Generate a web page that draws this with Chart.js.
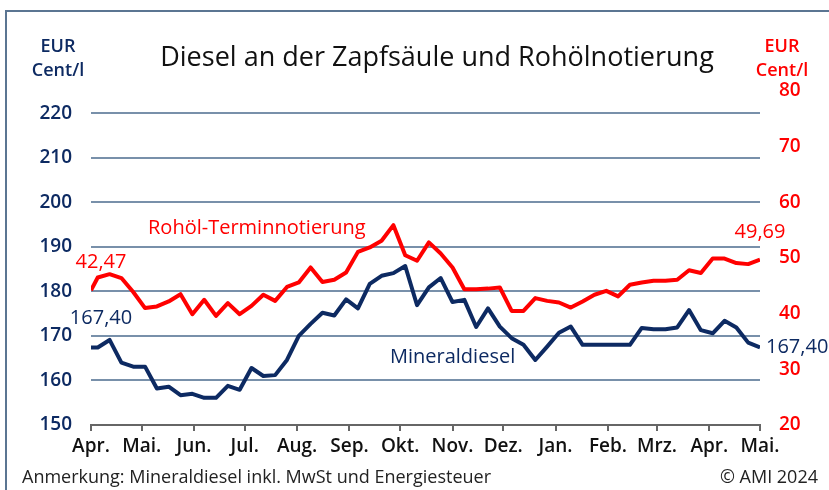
<!DOCTYPE html>
<html>
<head>
<meta charset="utf-8">
<script src="https://cdn.jsdelivr.net/npm/chart.js@4.4.1/dist/chart.umd.min.js"></script>
<style>
  html, body { margin: 0; padding: 0; background: #fff; }
  #wrap { position: relative; width: 829px; height: 490px; }
</style>
</head>
<body>
<div id="wrap"><canvas id="chart" width="829" height="490"></canvas></div>
<script>
// weekly quotes (Wednesdays), first point = start of period
const dates = [
  '2023-04-01',
  '2023-04-05', '2023-04-12', '2023-04-19', '2023-04-26',
  '2023-05-03', '2023-05-10', '2023-05-17', '2023-05-24', '2023-05-31',
  '2023-06-07', '2023-06-14', '2023-06-21', '2023-06-28',
  '2023-07-05', '2023-07-12', '2023-07-19', '2023-07-26',
  '2023-08-02', '2023-08-09', '2023-08-16', '2023-08-23', '2023-08-30',
  '2023-09-06', '2023-09-13', '2023-09-20', '2023-09-27',
  '2023-10-04', '2023-10-11', '2023-10-18', '2023-10-25',
  '2023-11-01', '2023-11-08', '2023-11-15', '2023-11-22', '2023-11-29',
  '2023-12-06', '2023-12-13', '2023-12-20', '2023-12-27',
  '2024-01-03', '2024-01-10', '2024-01-17', '2024-01-24', '2024-01-31',
  '2024-02-07', '2024-02-14', '2024-02-21', '2024-02-28',
  '2024-03-06', '2024-03-13', '2024-03-20', '2024-03-27',
  '2024-04-03', '2024-04-10', '2024-04-17', '2024-04-24',
  '2024-05-01'
];

// Mineraldiesel, EUR Cent/l (left axis)
const diesel = [
  167.4,
  167.4, 169.1, 164.0, 163.1,
  163.1, 158.2, 158.6, 156.7, 157.0,
  156.1, 156.1, 158.8, 157.9,
  162.8, 161.0, 161.2, 164.6,
  170.0, 172.7, 175.2, 174.6, 178.2,
  176.2, 181.7, 183.5, 184.1,
  185.7, 176.9, 180.9, 183.0,
  177.6, 178.1, 172.0, 176.2, 172.1,
  169.5, 168.0, 164.6, 167.6,
  170.7, 172.1, 168.0, 168.0, 168.0,
  168.0, 168.0, 171.8, 171.5,
  171.5, 171.9, 175.8, 171.3,
  170.6, 173.4, 171.9, 168.5,
  167.4
];

// Rohöl-Terminnotierung, EUR Cent/l (right axis)
const crude = [
  44.2,
  46.5, 47.1, 46.4, 43.9,
  41.0, 41.3, 42.2, 43.5, 39.9,
  42.5, 39.6, 41.9, 39.9,
  41.4, 43.4, 42.3, 44.8,
  45.6, 48.3, 45.7, 46.1, 47.4,
  51.1, 51.9, 53.1, 55.9,
  50.5, 49.5, 52.8, 50.8,
  48.3, 44.4, 44.4, 44.5, 44.7,
  40.5, 40.5, 42.8, 42.3,
  42.0, 41.1, 42.2, 43.4, 44.1,
  43.1, 45.2, 45.6, 45.9,
  45.9, 46.1, 47.8, 47.3,
  49.9, 49.9, 49.1, 48.9,
  49.7
];

const monthStarts = [
  '2023-04-01', '2023-05-01', '2023-06-01', '2023-07-01', '2023-08-01',
  '2023-09-01', '2023-10-01', '2023-11-01', '2023-12-01', '2024-01-01',
  '2024-02-01', '2024-03-01', '2024-04-01', '2024-05-01'
];
const monthLabels = ['Apr.', 'Mai.', 'Jun.', 'Jul.', 'Aug.', 'Sep.', 'Okt.', 'Nov.', 'Dez.', 'Jan.', 'Feb.', 'Mrz.', 'Apr.', 'Mai.'];

const leftTicks = [150, 160, 170, 180, 190, 200, 210, 220];
const rightTicks = [20, 30, 40, 50, 60, 70, 80];

const NAVY = '#0d2a62';
const RED = '#ff0000';
const GRID = '#7890aa';
const FONT = "'Open Sans', 'DejaVu Sans', sans-serif";

const t0 = Date.parse(monthStarts[0]);
const day = d => (Date.parse(d) - t0) / 86400000;
const monthDays = monthStarts.map(day);

const dieselPts = dates.map((d, i) => ({ x: day(d), y: diesel[i] }));
const crudePts = dates.map((d, i) => ({ x: day(d), y: crude[i] }));

const fmt = v => v.toFixed(2).replace('.', ',');

// texts around the plot: frame, title, units, series labels, footnote
const decor = {
  id: 'decor',
  afterDraw(chart) {
    const { ctx, scales: { x, y, y1 } } = chart;
    ctx.save();
    ctx.strokeStyle = '#5b7592';
    ctx.lineWidth = 2;
    ctx.beginPath();
    ctx.moveTo(6, 490);
    ctx.lineTo(6, 11);
    ctx.lineTo(829, 11);
    ctx.stroke();

    ctx.textBaseline = 'middle';
    ctx.textAlign = 'center';
    ctx.fillStyle = '#111';
    ctx.font = `27px ${FONT}`;
    ctx.fillText('Diesel an der Zapfsäule und Rohölnotierung', 437, 58);

    ctx.font = `600 18px ${FONT}`;
    ctx.fillStyle = NAVY;
    ctx.fillText('EUR', 58, 47);
    ctx.fillText('Cent/l', 58, 71);
    ctx.fillStyle = RED;
    ctx.fillText('EUR', 782, 47);
    ctx.fillText('Cent/l', 782, 71);

    const last = dates.length - 1;
    ctx.font = `20px ${FONT}`;
    ctx.fillStyle = RED;
    ctx.fillText(fmt(42.47), x.getPixelForValue(day(dates[0])) + 10, y1.getPixelForValue(crude[0]) - 28);
    ctx.fillText(fmt(crude[last] - 0.01), x.getPixelForValue(day(dates[last])), y1.getPixelForValue(crude[last]) - 27);
    ctx.fillStyle = NAVY;
    ctx.fillText(fmt(diesel[0]), x.getPixelForValue(day(dates[0])) + 10, y.getPixelForValue(diesel[0]) - 29);
    ctx.textAlign = 'left';
    ctx.fillText(fmt(diesel[last]), x.getPixelForValue(day(dates[last])) + 6, y.getPixelForValue(diesel[last]));

    ctx.font = `20px ${FONT}`;
    ctx.fillStyle = RED;
    ctx.fillText('Rohöl-Terminnotierung', 148, 228);
    ctx.fillStyle = NAVY;
    ctx.fillText('Mineraldiesel', 390, 357);

    ctx.font = `18px ${FONT}`;
    ctx.fillStyle = '#222';
    ctx.fillText('Anmerkung: Mineraldiesel inkl. MwSt und Energiesteuer', 22, 478);
    ctx.textAlign = 'right';
    ctx.fillText('© AMI 2024', 818, 478);
    ctx.restore();
  }
};

new Chart(document.getElementById('chart'), {
  type: 'line',
  data: {
    datasets: [
      {
        label: 'Rohöl-Terminnotierung',
        data: crudePts,
        yAxisID: 'y1',
        borderColor: RED,
        borderWidth: 4,
        pointRadius: 0,
        tension: 0,
        borderJoinStyle: 'round',
        order: 2
      },
      {
        label: 'Mineraldiesel',
        data: dieselPts,
        yAxisID: 'y',
        borderColor: NAVY,
        borderWidth: 4,
        pointRadius: 0,
        tension: 0,
        borderJoinStyle: 'round',
        order: 1
      }
    ]
  },
  options: {
    responsive: false,
    animation: false,
    layout: { padding: { top: 91, left: 0, right: 0, bottom: 0 } },
    plugins: {
      legend: { display: false },
      tooltip: { enabled: false }
    },
    scales: {
      x: {
        type: 'linear',
        min: monthDays[0],
        max: monthDays[monthDays.length - 1],
        afterBuildTicks: s => { s.ticks = monthDays.map(v => ({ value: v })); },
        afterFit: s => { s.height = 65; },
        ticks: {
          autoSkip: false,
          maxRotation: 0,
          padding: 4,
          color: '#111',
          font: { family: FONT, size: 19, weight: '600' },
          callback: (v, i) => monthLabels[i]
        },
        grid: { drawOnChartArea: false, tickLength: 6, color: '#666', lineWidth: 2 },
        border: { color: '#666', width: 2 }
      },
      y: {
        position: 'left',
        min: 150,
        max: 225,
        afterBuildTicks: s => { s.ticks = leftTicks.map(v => ({ value: v })); },
        afterFit: s => { s.width = 91; },
        ticks: {
          padding: 19,
          color: NAVY,
          font: { family: FONT, size: 19, weight: '600' }
        },
        grid: {
          drawTicks: false,
          lineWidth: 2,
          color: c => (c.tick && c.tick.value === 150 ? 'rgba(0,0,0,0)' : GRID)
        },
        border: { display: false }
      },
      y1: {
        position: 'right',
        min: 20,
        max: 80,
        afterBuildTicks: s => { s.ticks = rightTicks.map(v => ({ value: v })); },
        afterFit: s => { s.width = 69; },
        ticks: {
          padding: 19,
          color: RED,
          font: { family: FONT, size: 19, weight: '600' }
        },
        grid: { display: false, drawTicks: false },
        border: { display: false }
      }
    }
  },
  plugins: [decor]
});
</script>
</body>
</html>
